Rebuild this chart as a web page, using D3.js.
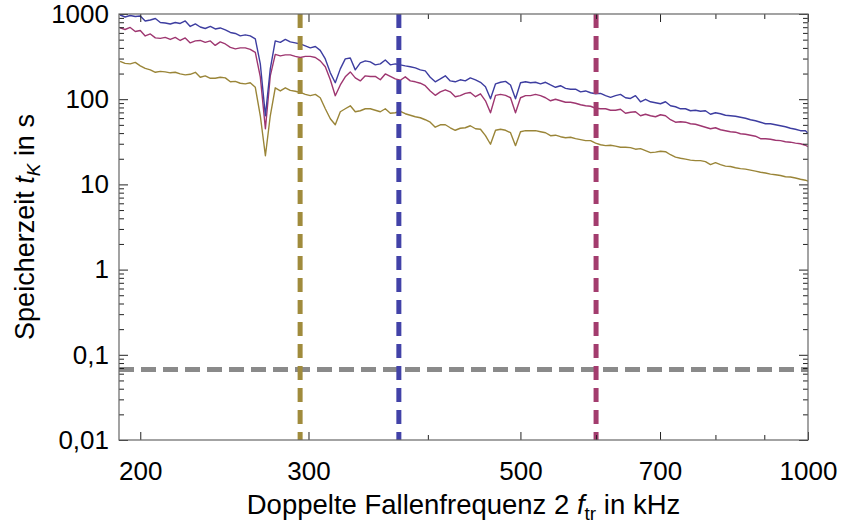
<!DOCTYPE html>
<html>
<head>
<meta charset="utf-8">
<script src="https://cdn.jsdelivr.net/npm/d3@7"></script>
<style>
    body { margin: 0; background: #fff; }
    svg { display: block; }
    text { font-family: "Liberation Sans", Arial, sans-serif; fill: #000; }
</style>
</head>
<body>
<svg id="chart" width="843" height="527"></svg>
<script>
// Doppelte Fallenfrequenz (kHz)
const freq = [
    190.5, 192.8, 195.2, 197.6, 200.0, 202.4, 204.9, 207.4, 209.9, 212.4,
    215.0, 217.6, 220.2, 222.9, 225.6, 228.4, 231.1, 233.9, 236.8, 239.6,
    242.5, 245.5, 248.5, 251.5, 254.5, 257.6, 260.7, 263.9, 267.1, 270.4,
    273.6, 276.9, 280.3, 283.7, 287.1, 290.6, 294.1, 297.7, 301.3, 305.0,
    308.6, 312.4, 316.2, 320.0, 323.9, 327.8, 331.8, 335.8, 339.9, 344.0,
    348.2, 352.4, 356.7, 361.0, 365.4, 369.8, 374.3, 378.8, 383.4, 388.1,
    392.8, 397.5, 402.3, 407.2, 412.2, 417.2, 422.2, 427.3, 432.5, 437.8,
    443.1, 448.7, 454.1, 459.6, 465.2, 470.9, 476.6, 482.4, 488.2, 494.1,
    500.1, 506.2, 512.3, 518.5, 524.8, 531.2, 537.6, 544.1, 550.7, 557.4,
    564.2, 571.0, 578.0, 585.0, 592.1, 599.3, 606.5, 613.9, 621.3, 628.8,
    636.4, 644.1, 651.9, 659.8, 667.8, 675.9, 684.1, 692.4, 700.8, 709.3,
    717.9, 726.6, 735.4, 744.3, 753.3, 762.4, 771.7, 781.0, 790.5, 800.1,
    809.8, 819.6, 829.5, 839.6, 849.8, 860.1, 870.5, 881.1, 891.8, 902.6,
    913.5, 924.6, 935.8, 947.1, 958.6, 970.2, 982.0, 993.9, 1000
];

// Speicherzeit (s), three series
const tBlue = [
    973, 922, 960, 935, 948, 828, 851, 886, 795, 785,
    764, 795, 774, 828, 714, 764, 704, 676, 714, 667,
    686, 650, 607, 591, 553, 568, 553, 510, 260, 63.9,
    227, 483, 464, 503, 470, 458, 445, 422, 400, 416,
    374, 297, 204, 156, 227, 297, 305, 221, 267, 282,
    274, 253, 260, 289, 253, 260, 253, 246, 240, 233,
    221, 215, 181, 160, 173, 188, 164, 160, 169, 164,
    178, 169, 158, 140, 101, 151.5, 158, 162, 147, 101,
    156, 160, 156, 158, 151.5, 158, 147, 138, 144, 134,
    131, 131, 122, 125, 119, 115.7, 117, 110, 105, 110,
    114, 104, 102, 110, 93.3, 99.8, 93.3, 90.8, 88.4, 93.3,
    83.7, 81.5, 77.2, 77.2, 73.2, 74.2, 72.2, 73.2, 66.6, 69.3,
    67.5, 64.8, 63.9, 63.1, 61.4, 59.8, 57.4, 55.9, 53.7, 51.5,
    51.5, 50.1, 48.8, 47.5, 45.6, 44.4, 42.7, 42.7, 39.9
];
const tMagenta = [
    686, 658, 695, 624, 641, 553, 583, 524, 517, 531,
    503, 531, 489, 524, 458, 483, 489, 464, 483, 428,
    470, 445, 405, 389, 400, 400, 384, 354, 183, 45.0,
    188, 336, 322, 331, 331, 318, 309, 318, 318, 309,
    282, 240, 169, 110, 147, 183, 209, 178, 164, 188,
    185, 185, 169, 198, 185, 173, 167, 183, 164, 160,
    154, 144, 125, 111, 122, 129, 122, 107, 110, 117,
    120, 107, 115.7, 95.8, 69.3, 111, 114, 111, 104, 69.3,
    104, 110, 110, 114, 110, 104, 95.8, 99.8, 95.8, 92.0,
    92.0, 89.6, 86.0, 83.7, 82.6, 78.3, 77.2, 77.2, 74.2, 74.2,
    76.2, 68.4, 70.3, 71.2, 63.9, 66.6, 63.9, 62.2, 65.7, 63.9,
    57.4, 53.7, 54.4, 53.7, 51.5, 50.8, 48.8, 46.9, 45.0, 46.2,
    43.8, 42.7, 41.5, 41.0, 39.3, 38.8, 37.8, 36.8, 34.4, 34.4,
    33.9, 33.0, 32.6, 31.7, 31.3, 30.5, 30.0, 28.8, 27.7
];
const tOlive = [
    278, 263, 260, 270, 246, 230, 221, 207, 212, 209,
    204, 207, 198, 193, 196, 207, 181, 188, 176, 176,
    181, 178, 160, 162, 154, 151.5, 156, 138, 63.9, 21.7,
    63.9, 136, 125, 136, 127, 124, 120, 114, 110, 114,
    104, 77.2, 59.0, 50.1, 71.2, 77.2, 83.7, 71.2, 73.2, 77.2,
    77.2, 74.2, 71.2, 77.2, 68.4, 69.3, 72.2, 67.5, 64.8, 62.2,
    60.6, 57.4, 53.7, 46.9, 50.1, 50.1, 46.2, 43.2, 45.6, 46.2,
    48.8, 45.0, 44.4, 37.3, 29.6, 43.2, 44.4, 43.2, 40.4, 28.5,
    41.5, 42.7, 42.7, 42.7, 41.5, 40.4, 37.3, 37.8, 36.3, 35.3,
    35.8, 34.4, 33.5, 32.6, 32.6, 30.5, 29.2, 28.5, 28.8, 28.1,
    27.3, 27.3, 27.0, 25.9, 26.3, 24.9, 23.6, 23.9, 24.5, 24.2,
    22.3, 20.9, 20.3, 19.8, 19.3, 19.0, 19.0, 18.5, 17.1, 18.0,
    17.1, 16.4, 16.2, 15.7, 15.3, 15.1, 14.7, 14.3, 13.9, 13.6,
    13.2, 13.0, 12.7, 12.3, 12.2, 11.9, 11.5, 11.2, 10.9
];

// dashed markers
const markerFreqs = [294, 373, 600];
const thresholdTime = 0.067;

// axes
const xDomain = [190, 1000];
const yDomain = [0.01, 1000];
const xTickMajor = [200, 300, 500, 700, 1000];
const xTickMinor = [400, 600, 800, 900];
const yTickMajor = [0.01, 0.1, 1, 10, 100, 1000];
const yTickLabels = ["0,01", "0,1", "1", "10", "100", "1000"];
const yTickMinor = [0.01, 0.1, 1, 10, 100].flatMap(d => [2, 3, 4, 5, 6, 7, 8, 9].map(m => +(d * m).toPrecision(3)));

const COLORS = {
    blue: '#3d3da0',
    magenta: '#9e3670',
    olive: '#9a8538',
    dashes: ['#a08b3c', '#4242a8', '#a33c6e'],
    gray: '#8a8a8a',
    frame: '#666'
};

const margin = { top: 14, right: 35, bottom: 87, left: 119 };
const W = 843, H = 527;
const w = W - margin.left - margin.right;
const h = H - margin.top - margin.bottom;

const svg = d3.select('#chart');
const g = svg.append('g').attr('transform', `translate(${margin.left},${margin.top})`);

const x = d3.scaleLog().domain(xDomain).range([0, w]);
const y = d3.scaleLog().domain(yDomain).range([h, 0]);

g.append('clipPath').attr('id', 'clip')
    .append('rect').attr('width', w).attr('height', h);

const plot = g.append('g').attr('clip-path', 'url(#clip)');

// series
const series = [
    { values: tOlive, color: COLORS.olive },
    { values: tMagenta, color: COLORS.magenta },
    { values: tBlue, color: COLORS.blue }
];
const line = d3.line().x(d => x(d[0])).y(d => y(d[1]));
series.forEach(s => {
    plot.append('path')
        .datum(freq.map((f, i) => [f, s.values[i]]))
        .attr('d', line)
        .attr('fill', 'none')
        .attr('stroke', s.color)
        .attr('stroke-width', 1.4)
        .attr('stroke-linejoin', 'round');
});

// dashed lines
plot.append('line')
    .attr('x1', 0).attr('x2', w)
    .attr('y1', y(thresholdTime)).attr('y2', y(thresholdTime))
    .attr('stroke', COLORS.gray).attr('stroke-width', 5)
    .attr('stroke-dasharray', '15 7');

markerFreqs.forEach((f, i) => {
    plot.append('line')
        .attr('x1', x(f)).attr('x2', x(f))
        .attr('y1', 0).attr('y2', h)
        .attr('stroke', COLORS.dashes[i]).attr('stroke-width', 5)
        .attr('stroke-dasharray', '14 8');
});

// ticks (inward on all four sides)
const tickStyle = sel => {
    sel.select('.domain').remove();
    sel.selectAll('line').attr('stroke', '#222');
    sel.selectAll('text').attr('font-size', 26);
};

g.append('g').attr('transform', `translate(0,${h})`)
    .call(d3.axisBottom(x).tickValues(xTickMajor).tickFormat(d3.format('d')).tickSize(-8).tickPadding(22))
    .call(tickStyle);
g.append('g').attr('transform', `translate(0,${h})`)
    .call(d3.axisBottom(x).tickValues(xTickMinor).tickFormat('').tickSize(-5))
    .call(tickStyle);
g.append('g')
    .call(d3.axisTop(x).tickValues(xTickMajor).tickFormat('').tickSize(-8))
    .call(tickStyle);
g.append('g')
    .call(d3.axisTop(x).tickValues(xTickMinor).tickFormat('').tickSize(-5))
    .call(tickStyle);

g.append('g')
    .call(d3.axisLeft(y).tickValues(yTickMajor).tickFormat((d, i) => yTickLabels[i]).tickSize(-9).tickPadding(10))
    .call(tickStyle);
g.append('g')
    .call(d3.axisLeft(y).tickValues(yTickMinor).tickFormat('').tickSize(-5))
    .call(tickStyle);
g.append('g').attr('transform', `translate(${w},0)`)
    .call(d3.axisRight(y).tickValues(yTickMajor).tickFormat('').tickSize(-9))
    .call(tickStyle);
g.append('g').attr('transform', `translate(${w},0)`)
    .call(d3.axisRight(y).tickValues(yTickMinor).tickFormat('').tickSize(-5))
    .call(tickStyle);

// frame
g.append('rect')
    .attr('width', w).attr('height', h)
    .attr('fill', 'none')
    .attr('stroke', COLORS.frame)
    .attr('stroke-width', 1.2);

// axis titles
const xTitle = svg.append('text')
    .attr('x', margin.left + w / 2).attr('y', 514)
    .attr('text-anchor', 'middle').attr('font-size', 27.5);
xTitle.append('tspan').text('Doppelte Fallenfrequenz 2 ');
xTitle.append('tspan').attr('font-style', 'italic').text('f');
xTitle.append('tspan').attr('font-size', 19).attr('dy', 6).text('tr');
xTitle.append('tspan').attr('dy', -6).text(' in kHz');

const yTitle = svg.append('text')
    .attr('transform', `translate(34,${margin.top + h / 2}) rotate(-90)`)
    .attr('text-anchor', 'middle').attr('font-size', 27);
yTitle.append('tspan').text('Speicherzeit ');
yTitle.append('tspan').attr('font-style', 'italic').text('t');
yTitle.append('tspan').attr('font-style', 'italic').attr('font-size', 19).attr('dy', 6).text('K');
yTitle.append('tspan').attr('dy', -6).text(' in s');
</script>
</body>
</html>
